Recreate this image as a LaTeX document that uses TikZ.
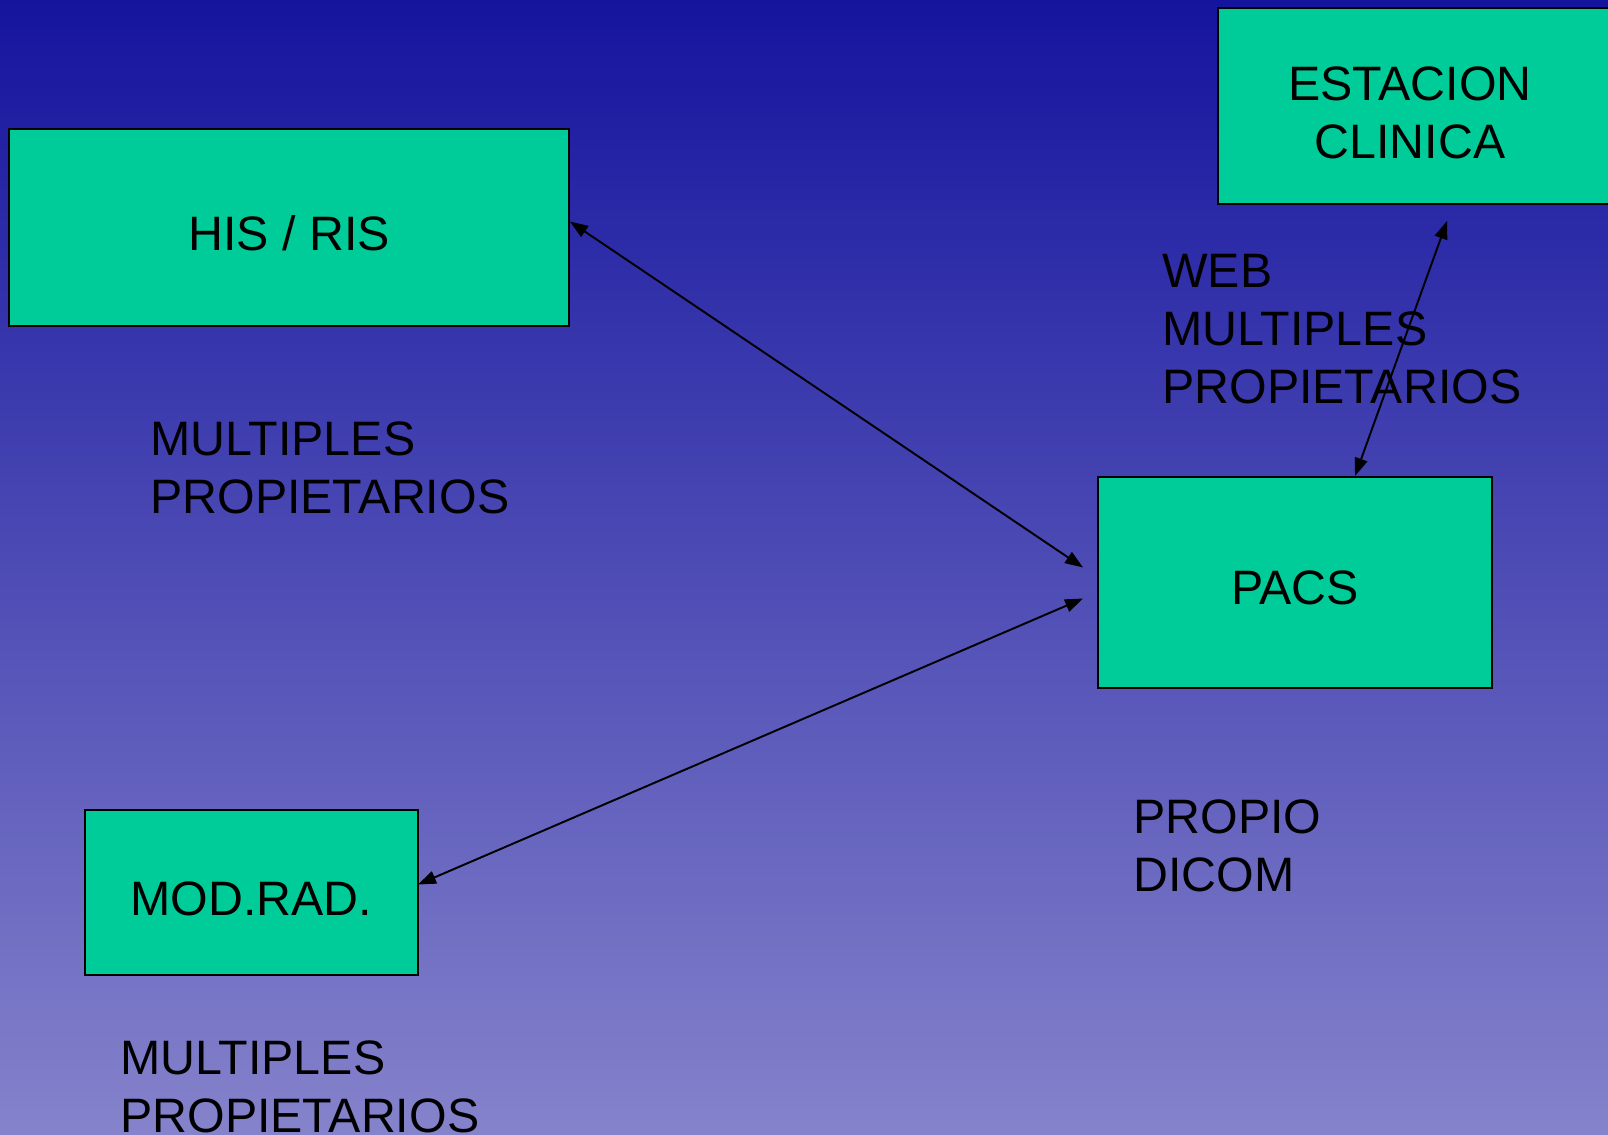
\documentclass[tikz,border=0pt]{standalone}
\usepackage{fontspec}
\setmainfont{Liberation Sans}
\usetikzlibrary{arrows.meta}
\usepackage{xcolor}

\definecolor{bgtop}{RGB}{21,20,158}
\definecolor{bgbot}{RGB}{133,131,203}
\definecolor{boxgreen}{RGB}{0,204,153}

\begin{document}
\begin{tikzpicture}[x=0.02cm, y=-0.02cm]
        % ================= 样式定义 =================
        \tikzset{
            sysbox/.style={rectangle, draw=black, line width=1.2pt, fill=boxgreen, outer sep=0pt, inner sep=0pt},
            boxtext/.style={font=\fontsize{27.5}{33}\selectfont, align=center, inner sep=0pt},
            note/.style={font=\fontsize{27.5}{33}\selectfont, align=left, anchor=north west, inner sep=0pt},
            link/.style={line width=1.1pt, black, {Triangle[length=0.36cm,width=0.26cm]}-{Triangle[length=0.36cm,width=0.26cm]}}
        }

        % ================= 背景 =================
        \useasboundingbox (0,0) rectangle (1608,1135);
        \clip (0,0) rectangle (1608,1135);
        \shade[top color=bgtop, bottom color=bgbot] (0,0) rectangle (1608,1135);

        % ================= 系统方框 =================
        \node[sysbox, minimum width=11.2cm, minimum height=3.94cm] (his) at (289,227.5) {};
        \node[boxtext] (histext) at ([shift={(0,6)}]his.center) {HIS / RIS};

        \node[sysbox, minimum width=7.88cm, minimum height=4.22cm] (pacs) at (1295,582.5) {};
        \node[boxtext] (pacstext) at ([shift={(0,5)}]pacs.center) {PACS};

        \node[sysbox, minimum width=6.66cm, minimum height=3.3cm] (mod) at (251.5,892.5) {};
        \node[boxtext] (modtext) at ([shift={(0,6)}]mod.center) {MOD.RAD.};

        % 右上角方框超出画面
        \node[sysbox, minimum width=8.44cm, minimum height=3.92cm] (est) at (1429,106) {};
        \node[boxtext] (esttext) at (1410,113) {ESTACION\\CLINICA};

        % ================= 说明文字 =================
        \node[note] (hisnote) at (150,421) {MULTIPLES\\PROPIETARIOS};
        \node[note] (modnote) at (120,1040) {MULTIPLES\\PROPIETARIOS};
        \node[note] (webnote) at (1162,254) {WEB\\MULTIPLES\\PROPIETARIOS};
        \node[note] (pacsnote) at (1133,799) {PROPIO\\DICOM};

        % ================= 连线 =================
        \draw[link] ([shift={(1,-6)}]his.east) -- ([shift={(-15,-15)}]pacs.west);
        \draw[link] ([shift={(0,-8)}]mod.east) -- ([shift={(-15,16)}]pacs.west);
        \draw[link] ([shift={(60,-1)}]pacs.north) -- ([shift={(229,17)}]est.south west);

    \end{tikzpicture}
\end{document}
